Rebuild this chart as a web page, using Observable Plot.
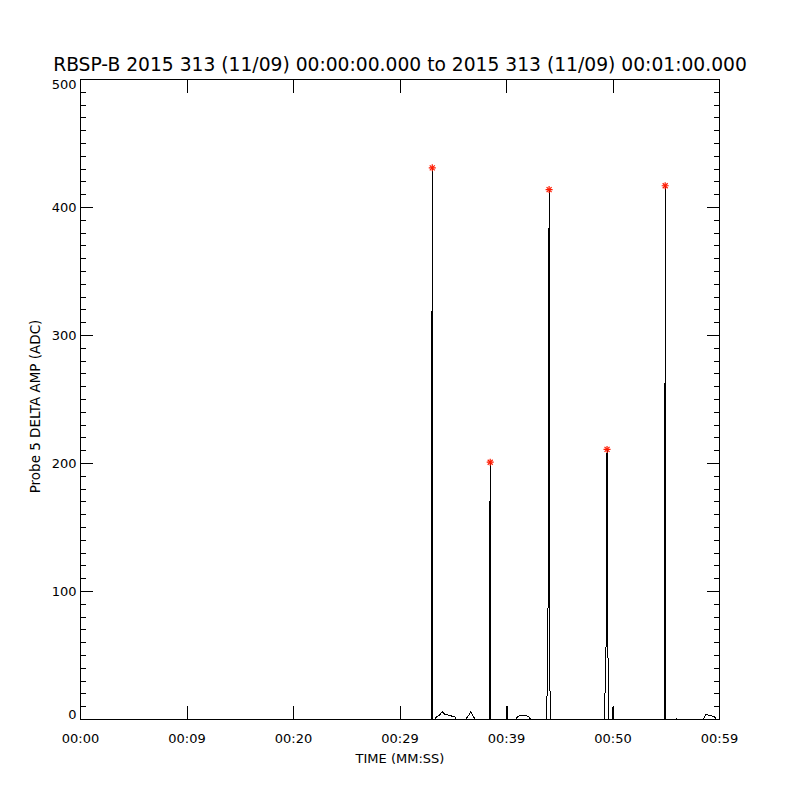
<!DOCTYPE html>
<html>
<head>
<meta charset="utf-8">
<script src="https://cdn.jsdelivr.net/npm/d3@7"></script>
<script src="https://cdn.jsdelivr.net/npm/@observablehq/plot@0.6"></script>
<style>
  html, body { margin: 0; padding: 0; background: #ffffff; }
  #chart { width: 800px; height: 800px; }
</style>
</head>
<body>
<div id="chart"></div>
<script>
// ---- Chart text ----
const titleText = "RBSP-B 2015 313 (11/09) 00:00:00.000 to 2015 313 (11/09) 00:01:00.000";
const xAxisLabel = "TIME (MM:SS)";
const yAxisLabel = "Probe 5 DELTA AMP (ADC)";

// ---- Axis ticks ----
const xTickValues = [0, 10, 20, 30, 40, 50, 60];
const xTickLabels = ["00:00", "00:09", "00:20", "00:29", "00:39", "00:50", "00:59"];
const yMajorTicks = [0, 100, 200, 300, 400, 500];
const yMinorTicks = d3.range(0, 501, 10).filter(v => v % 100 !== 0);

// ---- Series: seconds after 00:00:00 and ADC delta amplitude ----
const timeSec = [
  0,
  30.02, 30.05, 30.08,
  32.97, 33.00, 33.03, 33.06, 33.09,
  33.28, 33.44, 33.68, 33.97, 34.12, 34.38, 34.69, 35.00, 35.19, 35.25,
  36.19, 36.34, 36.50, 36.66, 36.82, 36.94, 37.06,
  38.38, 38.43, 38.47, 38.50, 38.54,
  40.03, 40.06, 40.09,
  40.88, 41.00, 41.19, 41.88, 42.12, 42.28,
  43.78, 43.85, 43.92, 44.00, 44.04, 44.09,
  49.20, 49.27, 49.35, 49.44, 49.48, 49.56,
  49.97, 50.00, 50.03,
  54.80, 54.84, 54.87, 54.90, 54.93, 54.97,
  55.97, 56.00, 56.03,
  58.44, 58.59, 58.69, 59.13, 59.53, 59.69,
  60
];
const adcValue = [
  0,
  0, 10, 0,
  0, 283, 431, 310, 0,
  0, 2.3, 3.1, 6.2, 4.4, 3.9, 3.1, 2.3, 1.8, 0,
  0, 2.3, 3.9, 6.2, 3.1, 1.8, 0,
  0, 130, 201, 148, 0,
  0, 10, 0,
  0, 1.8, 2.9, 2.9, 1.8, 0,
  0, 53, 102, 414, 260, 0,
  0, 29, 59, 211, 135, 0,
  0, 10, 0,
  0, 47, 123, 417, 331, 0,
  0, 1, 0,
  0, 2, 3.9, 3.1, 2.3, 0,
  0
];

// ---- Peak markers ----
const peakTime = [33.03, 38.47, 44.00, 49.44, 54.90];
const peakValue = [431, 201, 414, 211, 417];

const series = timeSec.map((t, i) => ({t, v: adcValue[i]}));
const peaks = peakTime.map((t, i) => ({t, v: peakValue[i]}));

const font = "'DejaVu Sans', sans-serif";
const noText = () => "";

const chart = Plot.plot({
  width: 800,
  height: 800,
  marginLeft: 80,
  marginRight: 81,
  marginTop: 79,
  marginBottom: 81,
  style: {fontFamily: font, fontSize: "13px", background: "#ffffff", color: "#000000", overflow: "visible"},
  x: {domain: [0, 60], label: null},
  y: {domain: [0, 500], label: null},
  marks: [
    // inward major/minor ticks, left and right
    Plot.axisY(yMajorTicks, {anchor: "left", tickSize: 13, dx: 13, tickFormat: noText, label: null, stroke: "#000", shapeRendering: "crispEdges"}),
    Plot.axisY(yMajorTicks, {anchor: "right", tickSize: 13, dx: -13, tickFormat: noText, label: null, stroke: "#000", shapeRendering: "crispEdges"}),
    Plot.axisY(yMinorTicks, {anchor: "left", tickSize: 6, dx: 6, tickFormat: noText, label: null, stroke: "#000", shapeRendering: "crispEdges"}),
    Plot.axisY(yMinorTicks, {anchor: "right", tickSize: 6, dx: -6, tickFormat: noText, label: null, stroke: "#000", shapeRendering: "crispEdges"}),
    // inward x ticks, bottom and top
    Plot.axisX(xTickValues, {anchor: "bottom", tickSize: 13, dy: -13, tickFormat: noText, label: null, stroke: "#000", shapeRendering: "crispEdges"}),
    Plot.axisX(xTickValues, {anchor: "top", tickSize: 13, dy: 13, tickFormat: noText, label: null, stroke: "#000", shapeRendering: "crispEdges"}),
    // y tick labels (end labels nudged inside the axis range, as drawn in the reference)
    Plot.axisY(yMajorTicks.slice(1, -1), {anchor: "left", tickSize: 0, tickPadding: 4, tickFormat: d => String(d), label: null, fill: "#000"}),
    Plot.axisY(yMajorTicks.slice(0, 1), {anchor: "left", tickSize: 0, tickPadding: 4, dy: -5, tickFormat: d => String(d), label: null, fill: "#000"}),
    Plot.axisY(yMajorTicks.slice(-1), {anchor: "left", tickSize: 0, tickPadding: 4, dy: 5, tickFormat: d => String(d), label: null, fill: "#000"}),
    // x tick labels
    Plot.axisX(xTickValues, {anchor: "bottom", tickSize: 0, tickPadding: 14, tickFormat: d => xTickLabels[xTickValues.indexOf(d)], label: null, fill: "#000"}),
    Plot.frame({stroke: "#000", shapeRendering: "crispEdges"}),
    // data
    Plot.line(series, {x: "t", y: "v", stroke: "#000", strokeWidth: 1, shapeRendering: "crispEdges"}),
    Plot.dot(peaks, {x: "t", y: "v", symbol: "plus", r: 2.4, stroke: "#ff1a00", strokeWidth: 1.2}),
    Plot.dot(peaks, {x: "t", y: "v", symbol: "times", r: 2.4, stroke: "#ff1a00", strokeWidth: 1.2}),
    // titles
    Plot.text([titleText], {frameAnchor: "top", dy: -14, text: d => d, fontSize: 18.7, fill: "#000", lineAnchor: "middle"}),
    Plot.text([xAxisLabel], {frameAnchor: "bottom", dy: 39, text: d => d, fontSize: 13, fill: "#000", lineAnchor: "middle"}),
    Plot.text([yAxisLabel], {frameAnchor: "left", dx: -45, dy: 7, rotate: -90, text: d => d, fontSize: 13.5, fill: "#000", textAnchor: "middle", lineAnchor: "middle"})
  ]
});

document.getElementById("chart").appendChild(chart);
</script>
</body>
</html>
